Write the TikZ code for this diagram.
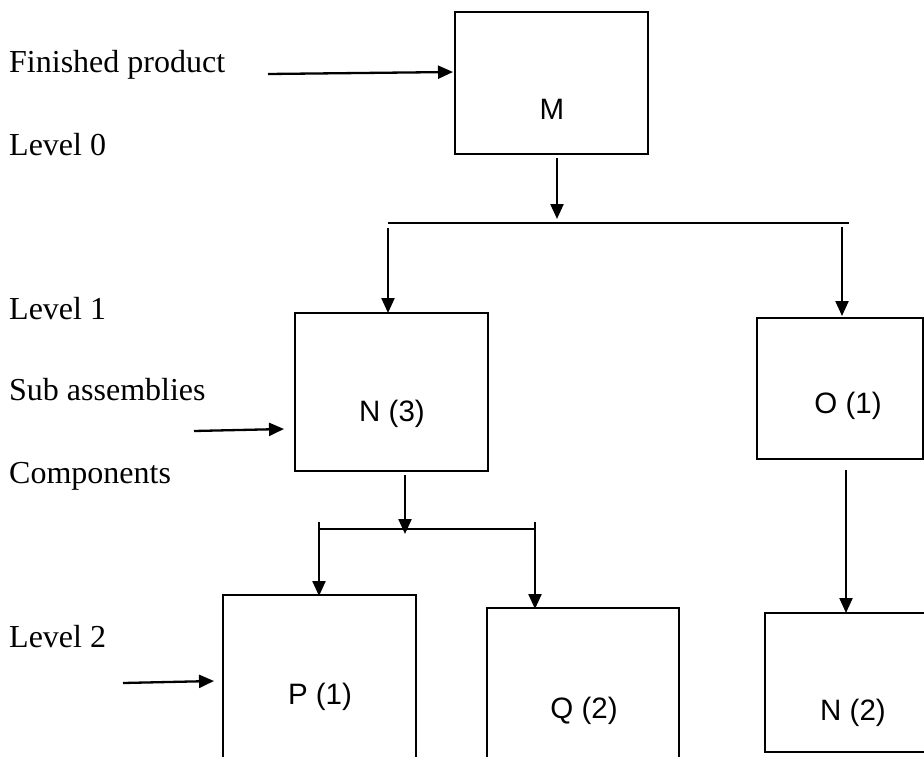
\documentclass[tikz,border=0pt]{standalone}
\usepackage{fontspec}
\setmainfont{Liberation Serif}
\newfontfamily\boxfont{Liberation Sans}
\usetikzlibrary{arrows.meta}
\tikzset{
  boxnode/.style={draw=black, line width=1.6pt, rectangle, inner sep=0pt},
  boxlabel/.style={font=\boxfont\fontsize{29.5}{34}\selectfont, anchor=base, inner sep=0pt},
  sidelabel/.style={font=\fontsize{32}{36}\selectfont, anchor=base west, inner sep=0pt},
  arr/.style={line width=2.3pt, -{Triangle[length=15pt,width=13pt]}},
  bar/.style={line width=2.2pt}
}
\begin{document}
\begin{tikzpicture}[x=1pt,y=-1pt]
\useasboundingbox (0,0) rectangle (924,757);
\clip (0,0) rectangle (924,757);
\fill[white] (0,0) rectangle (924,757);

% boxes
\node[boxnode, minimum width=193pt, minimum height=142pt] (M) at (551.5,83) {};
\node[boxnode, minimum width=193pt, minimum height=158pt] (N3) at (391.5,392) {};
\node[boxnode, minimum width=166pt, minimum height=141pt] (O1) at (840,388.5) {};
\node[boxnode, minimum width=193pt, minimum height=205pt] (P1) at (319.5,697.5) {};
\node[boxnode, minimum width=192pt, minimum height=192pt] (Q2) at (583,704) {};
\node[boxnode, minimum width=195pt, minimum height=139pt] (N2) at (862.5,682.5) {};

% box labels
\node[boxlabel] (tM) at (552,120) {M};
\node[boxlabel] (tN3) at (392,421) {N (3)};
\node[boxlabel] (tO1) at (848,413) {O (1)};
\node[boxlabel] (tP1) at (320,704) {P (1)};
\node[boxlabel] (tQ2) at (584,718) {Q (2)};
\node[boxlabel] (tN2) at (853,720) {N (2)};

% side labels
\node[sidelabel] (fp) at (9,73) {Finished product};
\node[sidelabel] (l0) at (9,156) {Level 0};
\node[sidelabel] (l1) at (9,319) {Level 1};
\node[sidelabel] (sa) at (9,400) {Sub assemblies};
\node[sidelabel] (co) at (9,483) {Components};
\node[sidelabel] (l2) at (9,647) {Level 2};

% bars
\coordinate (b1l) at (388,223);
\coordinate (b1r) at (849,223);
\draw[bar] (b1l) -- (b1r);
\coordinate (b2l) at (319,529);
\coordinate (b2r) at (535,529);
\draw[bar] (b2l) -- (b2r);
\draw[bar] (319,522) -- (b2l);
\draw[bar] (535,522) -- (b2r);

% arrows
\coordinate (fpS) at (268,74);
\draw[arr] (fpS) -- (453,72);
\draw[arr] (557,158) -- (557,219);
\draw[arr] (388,228) -- (388,313);
\draw[arr] (842,227) -- (842,316);
\coordinate (saS) at (194,431);
\draw[arr] (saS) -- (284,429);
\draw[arr] (405,475) -- (405,534);
\draw[arr] (319,529) -- (319,596);
\draw[arr] (535,529) -- (535,609);
\draw[arr] (846,470) -- (846,613);
\coordinate (l2S) at (123,683);
\draw[arr] (l2S) -- (214,681);
\end{tikzpicture}
\end{document}
